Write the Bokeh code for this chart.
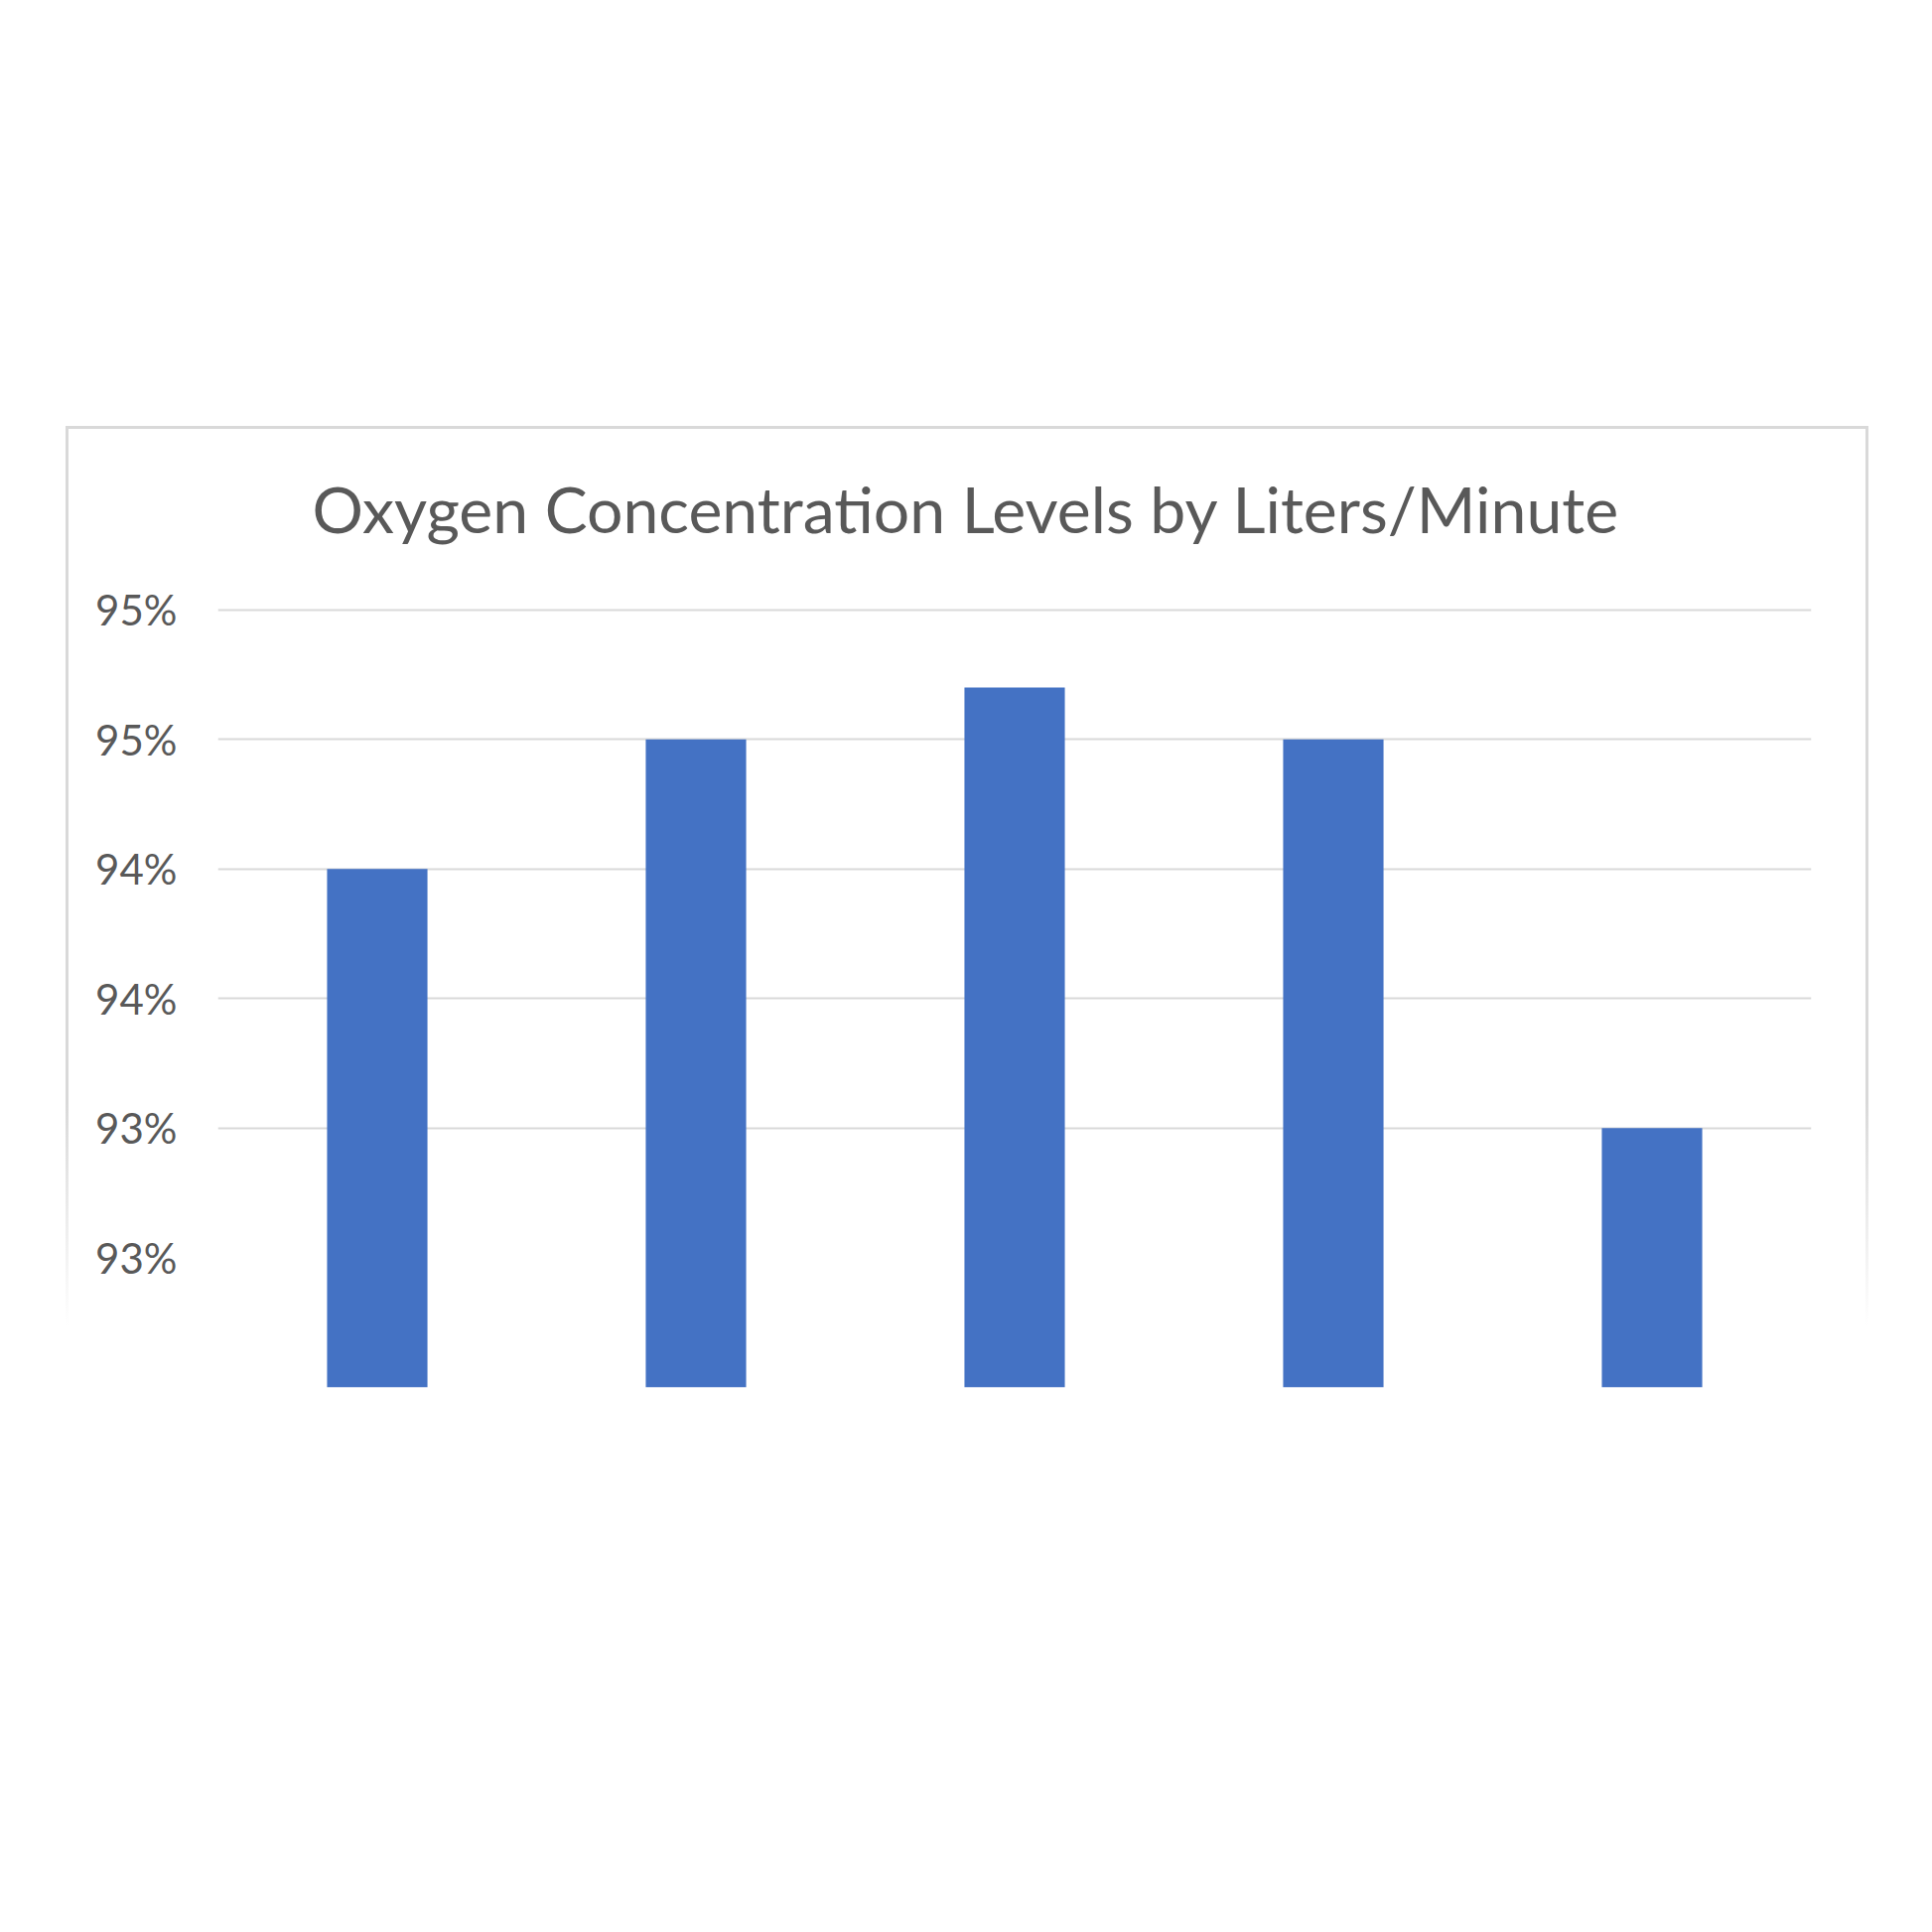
from bokeh.plotting import figure
from bokeh.models import FactorRange, Range1d, FixedTicker, CustomJSTickFormatter, Title
from bokeh.embed import file_html
from bokeh.resources import INLINE

# data
categories = ["1", "2", "3", "4", "5"]
values = [94.0, 94.5, 94.7, 94.5, 93.0]
tick_values = [92.5, 93.0, 93.5, 94.0, 94.5, 95.0]
grid_values = [93.0, 93.5, 94.0, 94.5, 95.0]
title_text = "Oxygen Concentration Levels by Liters/Minute"
y_min, y_max = 92.0, 95.01

W, H = 1816, 1030
p = figure(width=W, height=H, output_backend="svg", toolbar_location=None,
           x_range=FactorRange(*categories, range_padding=0),
           y_range=Range1d(y_min, y_max),
           min_border_left=150, min_border_right=61, min_border_top=179, min_border_bottom=65,
           margin=(429, 0, 0, 66))

p.styles = {
    "border-style": "solid",
    "border-width": "3px 3px 0px 3px",
    "border-image": "linear-gradient(to bottom, #d9d9d9 0%, #d9d9d9 66%, rgba(217,217,217,0) 88%) 1",
}

p.vbar(x=categories, top=values, bottom=y_min, width=0.315, color="#4472C4", line_color=None)

p.title = Title(text=title_text, align="left", text_font="Lato", text_font_size="64.3px",
                text_font_style="normal", text_color="#595959", offset=95)
# empty spacer between title and plot area
p.add_layout(Title(text=" ", text_font_size="40px", text_color="white"), "above")

p.outline_line_color = None
p.background_fill_color = "white"
p.border_fill_color = "white"

p.xaxis.visible = False
p.xgrid.grid_line_color = None

ya = p.yaxis[0]
ya.ticker = FixedTicker(ticks=tick_values)
ya.formatter = CustomJSTickFormatter(code="return Math.round(tick) + '%';")
ya.axis_line_color = None
ya.major_tick_line_color = None
ya.minor_tick_line_color = None
ya.major_label_text_font = "Lato"
ya.major_label_text_font_size = "42px"
ya.major_label_text_color = "#595959"
ya.major_label_standoff = 35

p.ygrid.ticker = FixedTicker(ticks=grid_values)
p.ygrid.grid_line_color = "#d9d9d9"
p.ygrid.grid_line_width = 2

open("out.html", "w").write(file_html(p, INLINE))
